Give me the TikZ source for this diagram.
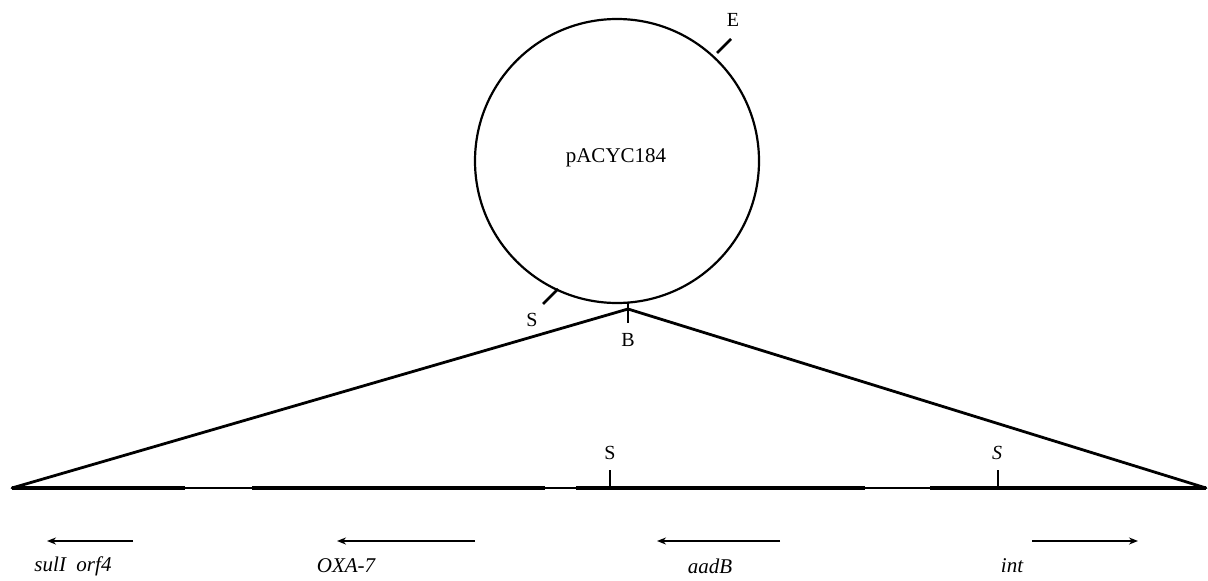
\documentclass[tikz,border=0pt]{standalone}
\usepackage{fontspec}
\setmainfont{Liberation Serif}
\usetikzlibrary{arrows.meta,shapes.geometric}
\begin{document}
\begin{tikzpicture}[x=1pt,y=-1pt,
  lbl/.style={inner sep=0pt, font=\fontsize{20}{20}\selectfont},
  gene/.style={inner sep=0pt, font=\fontsize{21}{21}\selectfont\itshape},
  thickseg/.style={line width=4.5pt},
  thinseg/.style={line width=1.8pt},
  gar/.style={line width=1.6pt, -{Stealth[length=9pt,width=7pt]}},
  tickmark/.style={line width=2.6pt},
  wedge/.style={line width=2.8pt, line cap=round}]
\useasboundingbox (0,0) rectangle (1208,581);
% plasmid
\node[draw, line width=2.2pt, circle, minimum size=284pt, inner sep=0pt] (plasmid) at (617,161) {};
\node[font=\fontsize{21}{21}\selectfont, inner sep=0pt] (name) at (616,158) {pACYC184};
% E site
\coordinate (e1) at (717,53);
\coordinate (e2) at (731,39);
\draw[tickmark] (e1) -- (e2);
\node[lbl] (E) at (733,20) {E};
% S site on plasmid
\coordinate (s1) at (558,289);
\coordinate (s2) at (543,304);
\draw[tickmark] (s1) -- (s2);
\node[lbl] (Sp) at (532,320) {S};
% B site
\coordinate (apex) at (628,309);
\coordinate (b1) at (628,302);
\coordinate (b2) at (628,323);
\draw[tickmark] (b1) -- (b2);
\node[lbl] (B) at (628,340) {B};
% wedge
\coordinate (L) at (12,488);
\coordinate (R) at (1206,488);
\draw[wedge] (L) -- (apex) -- (R);
% insert line
\coordinate (p1) at (185,488);
\coordinate (p2) at (252,488);
\coordinate (p3) at (545,488);
\coordinate (p4) at (576,488);
\coordinate (p5) at (865,488);
\coordinate (p6) at (930,488);
\draw[thickseg] (L) -- (p1);
\draw[thinseg] (p1) -- (p2);
\draw[thickseg] (p2) -- (p3);
\draw[thinseg] (p3) -- (p4);
\draw[thickseg] (p4) -- (p5);
\draw[thinseg] (p5) -- (p6);
\draw[thickseg] (p6) -- (R);
% S sites on insert
\coordinate (t1a) at (610,488);
\coordinate (t1b) at (610,470);
\draw[tickmark] (t1a) -- (t1b);
\node[lbl] (S1) at (610,453) {S};
\coordinate (t2a) at (998,488);
\coordinate (t2b) at (998,470);
\draw[tickmark] (t2a) -- (t2b);
\node[lbl, font=\fontsize{20}{20}\selectfont\itshape] (S2) at (997,453) {S};
% genes
\coordinate (g1a) at (133,541); \coordinate (g1b) at (47,541);
\coordinate (g2a) at (475,541); \coordinate (g2b) at (337,541);
\coordinate (g3a) at (780,541); \coordinate (g3b) at (657,541);
\coordinate (g4a) at (1032,541); \coordinate (g4b) at (1138,541);
\draw[gar] (g1a) -- (g1b);
\draw[gar] (g2a) -- (g2b);
\draw[gar] (g3a) -- (g3b);
\draw[gar] (g4a) -- (g4b);
\node[gene] (sul) at (73,566) {sulI\hspace{0.5em}orf4};
\node[gene] (oxa) at (346,566) {OXA-7};
\node[gene] (aad) at (710,566) {aadB};
\node[gene] (int) at (1012,566) {int};
\end{tikzpicture}
\end{document}
